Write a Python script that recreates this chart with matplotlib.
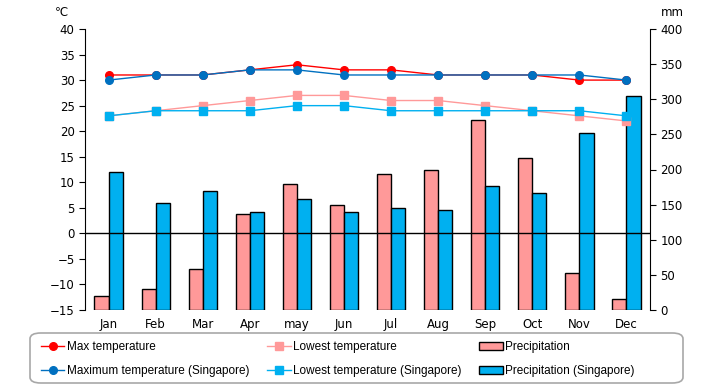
import matplotlib.pyplot as plt
from matplotlib.patches import FancyBboxPatch
import numpy as np

# month labels
months = ["Jan", "Feb", "Mar", "Apr", "may", "Jun", "Jul", "Aug", "Sep", "Oct", "Nov", "Dec"]

# temperatures (left axis, degrees C)
max_temp = [31, 31, 31, 32, 33, 32, 32, 31, 31, 31, 30, 30]
max_temp_sg = [30, 31, 31, 32, 32, 31, 31, 31, 31, 31, 31, 30]
low_temp = [23, 24, 25, 26, 27, 27, 26, 26, 25, 24, 23, 22]
low_temp_sg = [23, 24, 24, 24, 25, 25, 24, 24, 24, 24, 24, 23]

# precipitation (right axis, mm)
precip = [20, 30, 58, 136, 180, 149, 193, 200, 270, 216, 52, 15]
precip_sg = [197, 153, 170, 140, 158, 139, 145, 143, 176, 166, 252, 304]

plt.rcParams['font.family'] = ['DejaVu Sans']
plt.rcParams['font.size'] = 8.5

fig = plt.figure(figsize=(7.2, 3.85), dpi=100)
ax = fig.add_axes([85/720, 1-310/385, 565/720, 281/385])
ax2 = ax.twinx()

x = np.arange(len(months))
w = 0.3

# bars on the right axis, drawn behind the lines
ax2.set_facecolor('#FFFDCB')
b1 = ax2.bar(x - w/2, precip, w, color='#FF9999', edgecolor='black', linewidth=1)
b2 = ax2.bar(x + w/2, precip_sg, w, color='#00B0F0', edgecolor='black', linewidth=1)
ax2.set_ylim(0, 400)
ax2.set_yticks(range(0, 401, 50))

ax.set_zorder(ax2.get_zorder() + 1)
ax.patch.set_visible(False)

ax.axhline(0, color='black', linewidth=1)
l1, = ax.plot(x, max_temp, color='#FF0000', marker='o', markersize=5.5, linewidth=1)
l3, = ax.plot(x, low_temp, color='#FF9999', marker='s', markersize=5.5, linewidth=1)
l2, = ax.plot(x, max_temp_sg, color='#0070C0', marker='o', markersize=5.5, linewidth=1)
l4, = ax.plot(x, low_temp_sg, color='#00B0F0', marker='s', markersize=5.5, linewidth=1)

ax.set_xlim(-0.5, 11.5)
ax.set_ylim(-15, 40)
ax.set_yticks(range(-15, 41, 5))
ax.set_xticks(x)
ax.set_xticklabels(months)
ax.tick_params(axis='x', length=0, pad=6)
ax.tick_params(axis='y', length=4, direction='out')
ax2.tick_params(axis='y', length=4, direction='out')

for a in (ax, ax2):
    a.spines['top'].set_visible(False)
    a.spines['bottom'].set_visible(False)
ax.spines['right'].set_visible(False)
ax2.spines['left'].set_visible(False)

fig.text(55/720, 1-13/385, '℃', ha='left', va='center')
fig.text(672/720, 1-13/385, 'mm', ha='center', va='center')

# legend frame
frame = FancyBboxPatch((30/720, 2/385), 653/720, 50/385,
                       boxstyle='round,pad=0,rounding_size=0.015',
                       transform=fig.transFigure, facecolor='white',
                       edgecolor='#A8A8A8', linewidth=1.2)
fig.patches.append(frame)

leg = fig.legend([l1, l2, l3, l4, b1, b2],
                 ['Max temperature', 'Maximum temperature (Singapore)',
                  'Lowest temperature', 'Lowest temperature (Singapore)',
                  'Precipitation', 'Precipitation (Singapore)'],
                 ncol=3, loc='center left',
                 bbox_to_anchor=(36/720, 26/385),
                 frameon=False, handlelength=2.0, handletextpad=0.2,
                 prop={'family': 'Liberation Sans', 'size': 8.5},
                 borderaxespad=0, labelspacing=1.0, columnspacing=1.5)

fig.savefig('out.png', dpi=100)
